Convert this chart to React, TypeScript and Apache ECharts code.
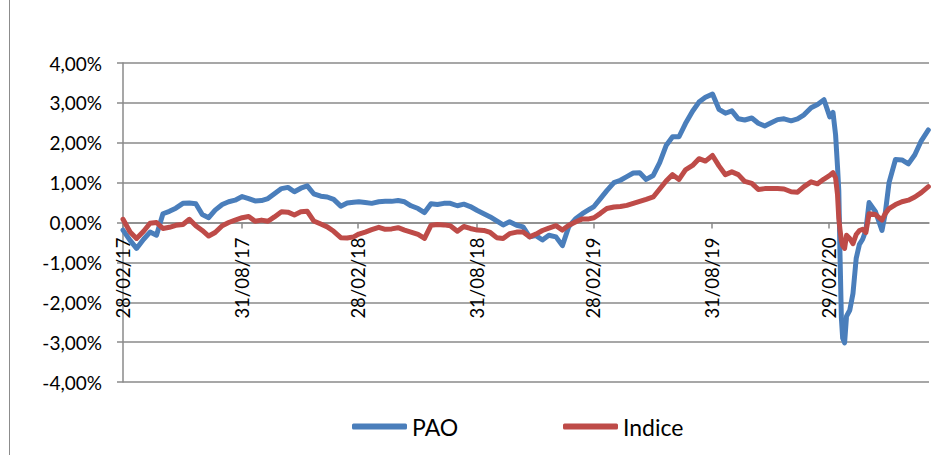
import React, { useEffect, useRef } from 'react';
import * as echarts from 'echarts';

const dates = [
  '2017-02-28', '2017-03-11', '2017-03-21',
  '2017-04-01', '2017-04-11', '2017-04-21',
  '2017-05-01', '2017-05-11', '2017-05-21',
  '2017-06-01', '2017-06-11', '2017-06-21',
  '2017-07-01', '2017-07-11', '2017-07-21',
  '2017-08-01', '2017-08-11', '2017-08-21',
  '2017-09-01', '2017-09-11', '2017-09-21',
  '2017-10-01', '2017-10-11', '2017-10-21',
  '2017-11-01', '2017-11-11', '2017-11-21',
  '2017-12-01', '2017-12-11', '2017-12-21',
  '2018-01-01', '2018-01-11', '2018-01-21',
  '2018-02-01', '2018-02-11', '2018-02-21',
  '2018-03-01', '2018-03-11', '2018-03-21',
  '2018-04-01', '2018-04-11', '2018-04-21',
  '2018-05-01', '2018-05-11', '2018-05-21',
  '2018-06-01', '2018-06-11', '2018-06-21',
  '2018-07-01', '2018-07-11', '2018-07-21',
  '2018-08-01', '2018-08-11', '2018-08-21',
  '2018-09-01', '2018-09-11', '2018-09-21',
  '2018-10-01', '2018-10-11', '2018-10-21',
  '2018-11-01', '2018-11-11', '2018-11-21',
  '2018-12-01', '2018-12-11', '2018-12-21',
  '2019-01-01', '2019-01-11', '2019-01-21',
  '2019-02-01', '2019-02-11', '2019-02-21',
  '2019-03-01', '2019-03-11', '2019-03-21',
  '2019-04-01', '2019-04-11', '2019-04-21',
  '2019-05-01', '2019-05-11', '2019-05-21',
  '2019-06-01', '2019-06-11', '2019-06-21',
  '2019-07-01', '2019-07-11', '2019-07-21',
  '2019-08-01', '2019-08-11', '2019-08-21',
  '2019-09-01', '2019-09-11', '2019-09-21',
  '2019-10-01', '2019-10-11', '2019-10-21',
  '2019-11-01', '2019-11-11', '2019-11-21',
  '2019-12-01', '2019-12-11', '2019-12-21',
  '2020-01-01', '2020-01-11', '2020-01-21',
  '2020-02-01', '2020-02-11', '2020-02-21',
  '2020-03-01', '2020-03-06', '2020-03-10', '2020-03-13', '2020-03-15',
  '2020-03-17', '2020-03-19', '2020-03-21', '2020-03-24', '2020-03-27',
  '2020-04-01', '2020-04-06', '2020-04-11', '2020-04-16', '2020-04-21', '2020-04-26',
  '2020-05-01', '2020-05-11', '2020-05-21', '2020-05-26',
  '2020-06-01', '2020-06-11', '2020-06-21',
  '2020-07-01', '2020-07-11', '2020-07-21',
  '2020-08-01',
];

const pao = [
  -0.19, -0.45, -0.65, -0.42, -0.24, -0.32, 0.22, 0.28, 0.36, 0.48, 0.49, 0.47,
  0.2, 0.12, 0.31, 0.45, 0.52, 0.56, 0.65, 0.6, 0.54, 0.55, 0.6, 0.72, 0.85, 0.88,
  0.77, 0.86, 0.92, 0.72,
  0.66, 0.64, 0.58, 0.41, 0.49, 0.51, 0.52, 0.5, 0.48, 0.52, 0.53, 0.53, 0.55, 0.52,
  0.42, 0.35, 0.25, 0.47, 0.45, 0.48, 0.48, 0.42, 0.46, 0.4, 0.3, 0.22, 0.14, 0.04,
  -0.06, 0.02, -0.07, -0.11, -0.36, -0.33, -0.44, -0.32,
  -0.36, -0.58, -0.1, 0.1, 0.22, 0.32, 0.4, 0.6, 0.8, 1.0, 1.06, 1.15, 1.24, 1.25,
  1.08, 1.18, 1.5, 1.93, 2.15, 2.15, 2.48, 2.79, 3.02, 3.14, 3.22, 2.84, 2.74, 2.8,
  2.6, 2.57, 2.62, 2.49, 2.42, 2.5, 2.58, 2.6,
  2.55, 2.6, 2.7, 2.88, 2.96, 3.08,
  2.65, 2.76, 2.2, 1.4, 0.8, -0.9, -2.4, -2.9, -3.02, -2.35,
  -2.2, -1.78, -0.9, -0.55, -0.42, -0.2,
  0.5, 0.27, -0.2, 0.22,
  1.0, 1.58, 1.57,
  1.47, 1.7, 2.05,
  2.32,
];

const indice = [
  0.08, -0.24, -0.4, -0.22, -0.02, 0.0, -0.15, -0.12, -0.07, -0.05, 0.08, -0.08,
  -0.2, -0.34, -0.25, -0.08, 0.0, 0.06, 0.12, 0.15, 0.03, 0.06, 0.03, 0.14, 0.27, 0.26,
  0.19, 0.27, 0.28, 0.04,
  -0.04, -0.11, -0.22, -0.38, -0.39, -0.36, -0.29, -0.24, -0.18, -0.12, -0.17, -0.16,
  -0.13, -0.19, -0.24, -0.3, -0.4, -0.07, -0.05, -0.06, -0.08, -0.22, -0.1, -0.15,
  -0.19, -0.2, -0.25, -0.38, -0.4, -0.28, -0.24, -0.24, -0.36, -0.29, -0.2, -0.14,
  -0.08, -0.19, -0.07, 0.02, 0.09, 0.09, 0.12, 0.23, 0.35, 0.39, 0.4, 0.43, 0.48, 0.53,
  0.58, 0.64, 0.84, 1.04, 1.2, 1.08, 1.32, 1.43, 1.6, 1.54, 1.68, 1.42, 1.2, 1.27,
  1.2, 1.03, 0.98, 0.83, 0.85, 0.85, 0.85, 0.84,
  0.77, 0.76, 0.9, 1.02, 0.97, 1.09,
  1.18, 1.25, 1.12, 0.7, 0.1, -0.2, -0.45, -0.58, -0.65, -0.32,
  -0.4, -0.53, -0.3, -0.2, -0.17, -0.25,
  0.22, 0.2, 0.06, 0.22,
  0.35, 0.45, 0.52,
  0.56, 0.64, 0.75,
  0.9,
];

const tickDates = [
  '2017-02-28', '2017-08-31', '2018-02-28', '2018-08-31',
  '2019-02-28', '2019-08-31', '2020-02-29',
];
const tickLabels = [
  '28/02/17', '31/08/17', '28/02/18', '31/08/18',
  '28/02/19', '31/08/19', '29/02/20',
];
const axisStart = '2017-02-28';
const axisEnd = '2020-08-02';
const yMin = -4;
const yMax = 4;

const FONT = 'Lato, "Open Sans", sans-serif';
const GRID_COLOR = '#8a8a8a';

const DAY = 86400000;
const ts = (d: string) => Date.parse(d + 'T00:00:00Z');
const dayOf = (d: string) => Math.round((ts(d) - ts(axisStart)) / DAY);

const GRID_TOP = 63;
const GRID_BOTTOM = 73;
const CHART_H = 455;

export default function App() {
  const ref = useRef<HTMLDivElement>(null);

  useEffect(() => {
    if (!ref.current) return;
    const chart = echarts.init(ref.current, null, { renderer: 'svg' });
    const tickDays = tickDates.map(dayOf);
    const labelFor = (v: number) => {
      for (let i = 0; i < tickDays.length; i++) {
        if (Math.abs(tickDays[i] - v) < 0.5) return tickLabels[i];
      }
      return '';
    };
    // shift the x axis from the bottom of the grid up to the zero line
    const gridH = CHART_H - GRID_TOP - GRID_BOTTOM;
    const zeroOffset = -gridH * (0 - yMin) / (yMax - yMin);

    chart.setOption({
      animation: false,
      backgroundColor: '#ffffff',
      grid: {
        left: 123,
        top: GRID_TOP,
        right: 12,
        bottom: GRID_BOTTOM,
        containLabel: false,
        outerBoundsMode: 'none',
      },
      graphic: [
        {
          type: 'line',
          shape: { x1: 9.5, y1: 0, x2: 9.5, y2: 455 },
          style: { stroke: '#8c8c8c', lineWidth: 1 },
          silent: true,
        },
      ],
      legend: [
        {
          data: ['PAO'],
          left: 352,
          top: 415,
          padding: 0,
          itemWidth: 55,
          itemHeight: 6,
          icon: 'roundRect',
          textStyle: { fontFamily: FONT, fontSize: 23, color: '#000' },
        },
        {
          data: ['Indice'],
          left: 563,
          top: 415,
          padding: 0,
          itemWidth: 55,
          itemHeight: 6,
          icon: 'roundRect',
          textStyle: { fontFamily: FONT, fontSize: 23, color: '#000' },
        },
      ],
      xAxis: {
        type: 'value',
        min: 0,
        max: dayOf(axisEnd),
        offset: zeroOffset,
        axisLine: {
          show: true,
          onZero: false,
          lineStyle: { color: GRID_COLOR, width: 1.5 },
        },
        axisTick: {
          show: true,
          customValues: tickDays,
          length: 6,
          lineStyle: { color: GRID_COLOR, width: 1.5 },
        },
        axisLabel: {
          customValues: tickDays,
          rotate: 90,
          margin: 15,
          formatter: (v: number) => labelFor(v),
          fontFamily: FONT,
          fontSize: 18.5,
          color: '#000',
        },
        splitLine: { show: false },
      },
      yAxis: {
        type: 'value',
        min: yMin,
        max: yMax,
        interval: 1,
        axisLine: { show: true, onZero: false, lineStyle: { color: GRID_COLOR, width: 1.5 } },
        axisTick: { show: true, length: 6, lineStyle: { color: GRID_COLOR, width: 1.5 } },
        axisLabel: {
          margin: 21,
          formatter: (v: number) => v.toFixed(2).replace('.', ',') + '%',
          fontFamily: FONT,
          fontSize: 19,
          color: '#000',
        },
        splitLine: { show: true, lineStyle: { color: GRID_COLOR, width: 1.5 } },
      },
      series: [
        {
          name: 'PAO',
          type: 'line',
          showSymbol: false,
          data: dates.map((d, i) => [dayOf(d), pao[i]]),
          itemStyle: { color: '#4a7ebb' },
          lineStyle: { color: '#4a7ebb', width: 5, join: 'round', cap: 'round' },
          z: 3,
        },
        {
          name: 'Indice',
          type: 'line',
          showSymbol: false,
          data: dates.map((d, i) => [dayOf(d), indice[i]]),
          itemStyle: { color: '#be4b48' },
          lineStyle: { color: '#be4b48', width: 5, join: 'round', cap: 'round' },
          z: 4,
        },
      ],
    });
    return () => chart.dispose();
  }, []);

  return (
    <div
      ref={ref}
      style={{ position: 'fixed', left: 0, top: 0, width: 941, height: 455, background: '#fff' }}
    />
  );
}
